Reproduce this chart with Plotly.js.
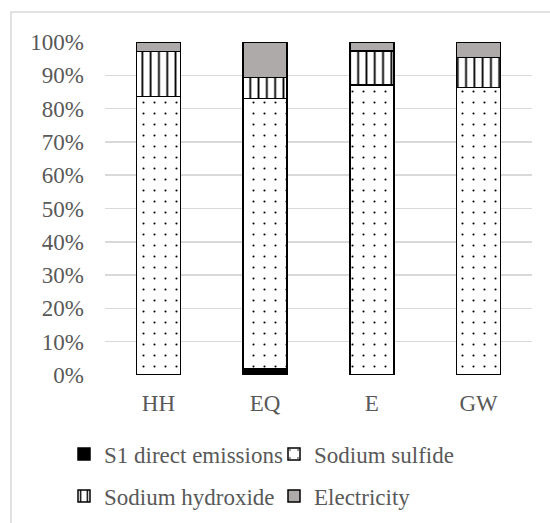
<!DOCTYPE html>
<html><head><meta charset="utf-8">
<script src="https://cdn.plot.ly/plotly-3.0.1.min.js"></script>
<style>html,body{margin:0;padding:0;background:#fff;overflow:hidden}</style>
</head><body>
<div id="chart" style="width:550px;height:523px"></div>
<script>
const categories = ['HH', 'EQ', 'E', 'GW'];
const s1Direct = [0, 1.8, 0, 0];
const sodiumSulfide = [83.6, 81.3, 87.1, 86.3];
const sodiumHydroxide = [13.5, 6.2, 10.2, 9.0];
const electricity = [2.9, 10.7, 2.7, 4.7];
const tickVals = [0,10,20,30,40,50,60,70,80,90,100];
const tickText = ['0%','10%','20%','30%','40%','50%','60%','70%','80%','90%','100%'];

const F = 'Liberation Serif';
const TC = '#595959';
const line = {color: '#000', width: 1.5};

const traces = [
  {name: 'S1 direct emissions', x: categories, y: s1Direct, type: 'bar',
   marker: {color: '#000', line: line}, legend: 'legend'},
  {name: 'Sodium sulfide', x: categories, y: sodiumSulfide, type: 'bar',
   marker: {color: '#fff', line: line,
     pattern: {shape: '.', size: 11, solidity: 0.03, fgcolor: '#000', bgcolor: '#fff'}}, legend: 'legend'},
  {name: 'Sodium hydroxide', x: categories, y: sodiumHydroxide, type: 'bar',
   marker: {color: '#fff', line: line,
     pattern: {shape: '|', size: 8.3, solidity: 0.22, fgcolor: '#000', bgcolor: '#fff'}}, legend: 'legend2'},
  {name: 'Electricity', x: categories, y: electricity, type: 'bar',
   marker: {color: '#aeaaaa', line: line}, legend: 'legend2'}
];

function leg(y) {
  return {orientation: 'h', xref: 'container', yref: 'container', xanchor: 'left', yanchor: 'middle',
    x: 64/550, y: y,
    font: {family: F, size: 23, color: TC}, bgcolor: 'rgba(0,0,0,0)', entrywidth: 165, entrywidthmode: 'pixels',
    traceorder: 'normal'};
}

const layout = {
  width: 550, height: 523,
  margin: {l: 105, r: 18, t: 42, b: 148},
  paper_bgcolor: '#fff', plot_bgcolor: '#fff',
  barmode: 'stack', bargap: 0.59,
  font: {family: F, size: 23, color: TC},
  xaxis: {type: 'category', showgrid: false, zeroline: false, showline: false, ticks: '',
    tickfont: {family: F, size: 23, color: TC}, ticklabelstandoff: 12},
  yaxis: {range: [0, 100], tickmode: 'array', tickvals: tickVals, ticktext: tickText, showgrid: true, gridcolor: '#d9d9d9', gridwidth: 1.5,
    zeroline: false, showline: false, ticks: '', tickfont: {family: F, size: 23, color: TC}, ticklabelstandoff: 20},
  legend: leg(1 - 454/523),
  legend2: leg(1 - 496/523),
  shapes: [{type: 'rect', xref: 'paper', yref: 'paper', x0: (11-105)/427, x1: 2, y0: -2, y1: (375-12)/333,
    line: {color: '#d9d9d9', width: 1.5}, fillcolor: 'rgba(0,0,0,0)', layer: 'below'}],
  showlegend: true
};

Plotly.newPlot('chart', traces, layout, {displayModeBar: false, staticPlot: true});
</script>
</body></html>
